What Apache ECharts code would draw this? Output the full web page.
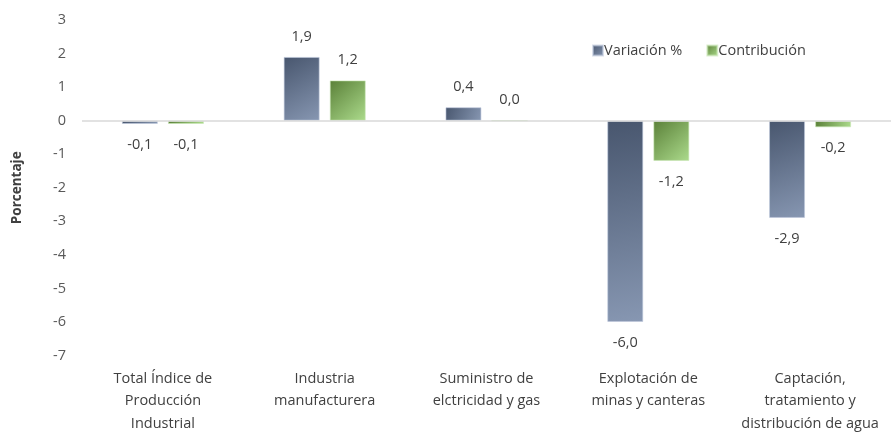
<!DOCTYPE html>
<html>
<head>
<meta charset="utf-8">
<script src="https://cdn.jsdelivr.net/npm/echarts@6/dist/echarts.min.js"></script>
<style>
  html, body { margin: 0; padding: 0; background: #fff; }
  #main { width: 891px; height: 435px; }
</style>
</head>
<body>
<div id="main"></div>
<script>
// categorías y valores
var categorias = [
  'Total Índice de\nProducción\nIndustrial',
  'Industria\nmanufacturera',
  'Suministro de\nelctricidad y gas',
  'Explotación de\nminas y canteras',
  'Captación,\ntratamiento y\ndistribución de agua'
]
var variacion = [-0.1, 1.9, 0.4, -6.0, -2.9]
var contribucion = [-0.1, 1.2, 0.0, -1.2, -0.2]
var yTicks = [3, 2, 1, 0, -1, -2, -3, -4, -5, -6, -7]

var fuente = 'Open Sans'

function degradado (c1, c2) {
  return new echarts.graphic.LinearGradient(0, 0, 1, 1, [
    { offset: 0, color: c1 },
    { offset: 1, color: c2 }
  ])
}

// etiqueta arriba si es positivo, abajo si es negativo
function conEtiquetas (vals) {
  return vals.map(function (v) {
    return { value: v, label: { position: v < 0 ? 'bottom' : 'top' } }
  })
}

var etiqueta = {
  show: true,
  distance: 13,
  color: '#404040',
  fontSize: 14.5,
  fontFamily: fuente,
  formatter: function (p) { return p.value.toFixed(1).replace('.', ',') }
}

var myChart = echarts.init(document.getElementById('main'))
myChart.setOption({
  animation: false,
  textStyle: { fontFamily: fuente },
  legend: {
    left: 587,
    top: 38,
    itemWidth: 10,
    itemHeight: 10,
    itemGap: 24,
    icon: 'rect',
    textStyle: { color: '#404040', fontSize: 14.5, fontFamily: fuente, padding: [0, 0, 0, -4] },
    data: ['Variación %', 'Contribución']
  },
  grid: { left: 82, right: 0, top: 20, bottom: 79 },
  xAxis: {
    type: 'category',
    data: categorias,
    axisLine: { show: false, onZero: false },
    axisTick: { show: false },
    axisLabel: {
      color: '#404040',
      fontSize: 14.5,
      fontFamily: fuente,
      lineHeight: 22.5,
      margin: 12,
      interval: 0
    }
  },
  yAxis: {
    type: 'value',
    min: -7,
    max: 3,
    interval: 1,
    name: 'Porcentaje',
    nameLocation: 'middle',
    nameGap: 58,
    nameTextStyle: { color: '#404040', fontSize: 13.5, fontWeight: 'bold', fontFamily: fuente },
    axisLine: { show: false },
    axisTick: { show: false },
    splitLine: { show: false },
    axisLabel: {
      color: '#595959',
      fontSize: 14.5,
      fontFamily: fuente,
      margin: 16,
      formatter: function (v) { return yTicks.indexOf(v) >= 0 ? String(v) : '' }
    }
  },
  series: [
    {
      name: 'Variación %',
      type: 'bar',
      barWidth: 36,
      barGap: '28%',
      data: conEtiquetas(variacion),
      itemStyle: {
        color: degradado('#48566e', '#8797b2'),
        borderColor: 'rgba(190,200,220,0.6)',
        borderWidth: 1
      },
      label: etiqueta,
      markLine: {
        silent: true,
        symbol: 'none',
        label: { show: false },
        lineStyle: { color: '#d9d9d9', type: 'solid', width: 1.5 },
        data: [{ yAxis: 0 }]
      },
      z: 3
    },
    {
      name: 'Contribución',
      type: 'bar',
      barWidth: 36,
      data: conEtiquetas(contribucion),
      itemStyle: {
        color: degradado('#5a8038', '#acdb8c'),
        borderColor: 'rgba(200,230,180,0.6)',
        borderWidth: 1
      },
      label: etiqueta,
      z: 3
    }
  ]
})
</script>
</body>
</html>
